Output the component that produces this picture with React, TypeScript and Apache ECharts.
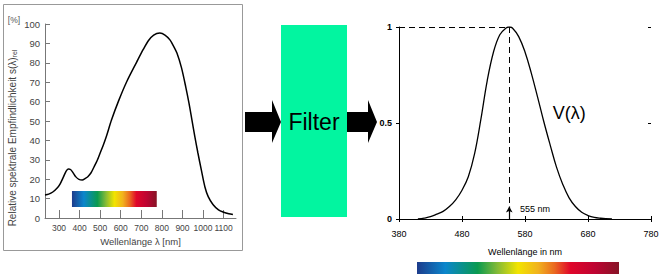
import React, { useEffect, useRef } from "react";
import * as echarts from "echarts";

// Left chart: relative spectral sensitivity s(λ)rel of the silicon sensor, in %
const leftWavelengths = [232, 250, 270, 290, 305, 320, 333, 345, 356, 368, 382, 397, 413, 428, 440, 455, 470, 485, 500, 515, 530, 555, 590, 630, 678, 710, 735, 760, 790, 815, 839, 857, 873, 895, 916, 932, 946, 960, 975, 992, 1009, 1025, 1048, 1075, 1100, 1125, 1145];
const leftValues = [11.9, 12.3, 13.4, 15.3, 17.5, 20.8, 23.8, 25.3, 25.0, 23.4, 21.2, 19.9, 19.6, 20.4, 21.3, 23.2, 26.3, 29.5, 33.5, 37.5, 42, 50.5, 60.5, 70.5, 80.5, 87, 91.5, 94.3, 95.3, 94.3, 91.8, 88.5, 85, 77.5, 67.5, 59, 50.5, 42, 33.5, 24.5, 16, 11, 7, 4.2, 3, 2.2, 1.8];
const leftXTicks = [300, 400, 500, 600, 700, 800, 900, 1000, 1100];
const leftSpectrum = { from: 363, to: 775, low: 5.7, high: 13.9 };

// Right chart: V(λ) eye sensitivity curve
const rightWavelengths = [410, 420, 430, 440, 450, 460, 470, 480, 490, 500, 510, 520, 530, 540, 550, 555, 560, 570, 580, 590, 600, 610, 620, 630, 640, 650, 660, 670, 680, 690, 700, 718];
const rightValues = [0, 0.005, 0.012, 0.025, 0.04, 0.065, 0.1, 0.15, 0.22, 0.34, 0.52, 0.72, 0.87, 0.96, 0.995, 1, 0.995, 0.95, 0.87, 0.76, 0.635, 0.505, 0.385, 0.27, 0.18, 0.11, 0.065, 0.035, 0.018, 0.008, 0.004, 0];
const rightXTicks = [380, 480, 580, 680, 780];
const peakWavelength = 555;

const spectrumStops = [
  { offset: 0, color: "#1d3c8c" },
  { offset: 0.14, color: "#0b86cc" },
  { offset: 0.3, color: "#0a9a50" },
  { offset: 0.4, color: "#86bb36" },
  { offset: 0.5, color: "#f2e400" },
  { offset: 0.6, color: "#f1b21e" },
  { offset: 0.68, color: "#ea6a20" },
  { offset: 0.76, color: "#e0062a" },
  { offset: 0.88, color: "#be0432" },
  { offset: 1, color: "#861426" },
];

const FONT = "Liberation Sans, Arial, sans-serif";

export default function App() {
  const ref = useRef<HTMLDivElement>(null);
  useEffect(() => {
    if (!ref.current) return;
    const chart = echarts.init(ref.current, undefined, { renderer: "svg" });
    const grad = () => new echarts.graphic.LinearGradient(0, 0, 1, 0, spectrumStops);
    const leftData = leftWavelengths.map((w, i) => [w, leftValues[i]]);
    const rightData = rightWavelengths.map((w, i) => [w, rightValues[i]]);
    const grayAxis = { lineStyle: { color: "#777", width: 1 } };
    const plain = (v: number) => String(v);

    chart.setOption({
      animation: false,
      backgroundColor: "#fff",
      textStyle: { fontFamily: FONT },
      grid: [
        { left: 45, right: 428, top: 24, bottom: 61 },
        { left: 399, right: 13, top: 27, bottom: 60 },
      ],
      xAxis: [
        {
          gridIndex: 0, type: "value", min: 232, max: 1160,
          axisLine: grayAxis,
          axisTick: { inside: true, length: 8, customValues: leftXTicks, lineStyle: { color: "#777" } },
          axisLabel: { customValues: leftXTicks, formatter: plain, color: "#444", fontSize: 8.5, margin: 5, fontFamily: FONT, hideOverlap: false },
          splitLine: { show: false },
          name: "Wellenlänge λ [nm]", nameLocation: "middle", nameGap: 15,
          nameTextStyle: { color: "#444", fontSize: 9.5, fontFamily: FONT },
        },
        {
          gridIndex: 1, type: "value", min: 380, max: 780, position: "bottom",
          axisLine: { lineStyle: { color: "#000", width: 1 } },
          axisTick: { length: 3, customValues: rightXTicks, lineStyle: { color: "#000" } },
          axisLabel: { customValues: rightXTicks, formatter: plain, color: "#000", fontSize: 9, margin: 10, fontFamily: FONT },
          splitLine: { show: false },
          name: "Wellenlänge in nm", nameLocation: "middle", nameGap: 28,
          nameTextStyle: { color: "#000", fontSize: 9, fontFamily: FONT },
        },
        {
          gridIndex: 1, type: "value", min: 380, max: 780, position: "bottom",
          axisLine: { show: false },
          axisTick: { inside: true, length: 3, customValues: rightXTicks, lineStyle: { color: "#000" } },
          axisLabel: { show: false },
          splitLine: { show: false },
        },
      ],
      yAxis: [
        {
          gridIndex: 0, type: "value", min: 0, max: 100, interval: 10,
          axisLine: { show: true, ...grayAxis },
          axisTick: { show: true, inside: true, length: 5, lineStyle: { color: "#777" } },
          axisLabel: { color: "#444", fontSize: 9.5, margin: 5, fontFamily: FONT },
          splitLine: { show: false },
        },
        {
          gridIndex: 1, type: "value", min: 0, max: 1, interval: 0.5,
          axisLine: { show: true, lineStyle: { color: "#000", width: 1 } },
          axisTick: { show: true, length: 3, lineStyle: { color: "#000" } },
          axisLabel: { color: "#000", fontSize: 9, margin: 7, fontWeight: "bold", fontFamily: FONT },
          splitLine: { show: false },
        },
        {
          gridIndex: 1, type: "value", min: 0, max: 1, interval: 0.5,
          axisLine: { show: false },
          axisTick: { show: true, inside: true, length: 3, lineStyle: { color: "#000" } },
          axisLabel: { show: false },
          splitLine: { show: false },
        },
      ],
      series: [
        {
          type: "line", xAxisIndex: 0, yAxisIndex: 0, data: leftData, smooth: 0.3,
          showSymbol: false, lineStyle: { color: "#000", width: 1.5 }, z: 3,
          markArea: {
            silent: true,
            itemStyle: { color: grad(), opacity: 1 },
            data: [[
              { coord: [leftSpectrum.from, leftSpectrum.low] },
              { coord: [leftSpectrum.to, leftSpectrum.high] },
            ]],
          },
        },
        {
          type: "line", xAxisIndex: 1, yAxisIndex: 1, data: rightData, smooth: 0.4,
          showSymbol: false, lineStyle: { color: "#000", width: 1.3 }, z: 3,
          markLine: {
            silent: true, symbol: ["none", "none"],
            lineStyle: { color: "#000", type: [6, 4], width: 1 },
            label: { show: false },
            data: [
              [{ coord: [380, 1] }, { coord: [peakWavelength, 1] }],
              [{ coord: [peakWavelength, 1] }, { coord: [peakWavelength, 0.075] }],
            ],
          },
          markPoint: {
            silent: true, symbol: "circle", symbolSize: 0,
            data: [
              {
                coord: [572, 0.052],
                label: { show: true, position: "right", distance: 0, formatter: peakWavelength + " nm", color: "#000", fontSize: 9, fontFamily: FONT },
              },
              {
                coord: [624, 0.55],
                label: { show: true, position: "right", distance: 0, formatter: "V(λ)", color: "#000", fontSize: 18, fontFamily: FONT },
              },
            ],
          },
        },
        {
          type: "line", xAxisIndex: 1, yAxisIndex: 1, data: [],
          markLine: {
            silent: true, symbol: ["none", "arrow"], symbolSize: [5, 6],
            lineStyle: { color: "#000", type: "solid", width: 1.2 },
            label: { show: false },
            data: [[{ coord: [peakWavelength, 0] }, { coord: [peakWavelength, 0.065] }]],
          },
        },
      ],
      graphic: [
        { type: "rect", shape: { x: 3.5, y: 4.5, width: 239, height: 246 }, style: { fill: "none", stroke: "#999", lineWidth: 1 }, z: -1 },
        { type: "text", x: 14, y: 20, style: { text: "[%]", fill: "#555", fontSize: 8.5, fontFamily: FONT, align: "center", verticalAlign: "middle" } },
        {
          type: "text", x: 12, y: 138, rotation: Math.PI / 2,
          style: {
            text: "{a|Relative spektrale Empfindlichkeit s(λ)}{b|rel}",
            align: "center", verticalAlign: "middle", fill: "#444", fontFamily: FONT,
            rich: {
              a: { fontSize: 10, fill: "#444", fontFamily: FONT, lineHeight: 12 },
              b: { fontSize: 7, fill: "#444", fontFamily: FONT, verticalAlign: "bottom", lineHeight: 12, padding: [3, 0, 0, 0] },
            },
          },
        },
        { type: "rect", shape: { x: 281, y: 25, width: 66, height: 192 }, style: { fill: "#02f5a0" } },
        { type: "text", x: 314, y: 122, style: { text: "Filter", fill: "#000", fontSize: 23, fontFamily: FONT, align: "center", verticalAlign: "middle" } },
        { type: "polygon", shape: { points: [[245, 112], [272, 112], [272, 100], [281, 122], [272, 143], [272, 132], [245, 132]] }, style: { fill: "#000" } },
        { type: "polygon", shape: { points: [[347, 112], [368, 112], [368, 100], [377, 122], [368, 143], [368, 132], [347, 132]] }, style: { fill: "#000" } },
        { type: "rect", shape: { x: 417, y: 262, width: 202, height: 12 }, style: { fill: grad() } },
      ],
    });
    return () => chart.dispose();
  }, []);
  return <div ref={ref} style={{ position: "fixed", left: 0, top: 0, width: 664, height: 279 }} />;
}
